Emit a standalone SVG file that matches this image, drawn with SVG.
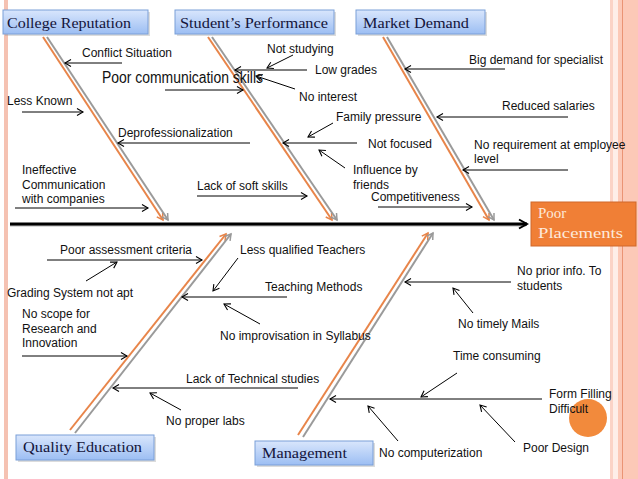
<svg xmlns="http://www.w3.org/2000/svg" width="638" height="479" viewBox="0 0 638 479">
<defs>
<linearGradient id="blue" x1="0" y1="0" x2="0" y2="1">
<stop offset="0" stop-color="#d9e6fc"/>
<stop offset="1" stop-color="#9cbef3"/>
</linearGradient>
<marker id="ah" viewBox="-8 -5 10 10" refX="0" refY="0" markerWidth="10" markerHeight="10" markerUnits="userSpaceOnUse" orient="auto">
<path d="M-6,-3.5 L0,0 L-6,3.5" fill="none" stroke="#000" stroke-width="1.1"/>
</marker>
<marker id="aho" viewBox="-8 -5 10 10" refX="0" refY="0" markerWidth="10" markerHeight="10" markerUnits="userSpaceOnUse" orient="auto">
<path d="M-6,-3.5 L0,0 L-6,3.5" fill="none" stroke="#e8854a" stroke-width="1.5"/>
</marker>
<marker id="ahg" viewBox="-8 -5 10 10" refX="0" refY="0" markerWidth="10" markerHeight="10" markerUnits="userSpaceOnUse" orient="auto">
<path d="M-6,-3.5 L0,0 L-6,3.5" fill="none" stroke="#9a9a9a" stroke-width="1.5"/>
</marker>
<marker id="ahs" viewBox="-10 -6 12 12" refX="0" refY="0" markerWidth="12" markerHeight="12" markerUnits="userSpaceOnUse" orient="auto">
<path d="M-8,-4.5 L0,0 L-8,4.5" fill="none" stroke="#000" stroke-width="2"/>
</marker>
</defs>
<style>
.cat{fill:url(#blue);stroke:#7a9fd8;stroke-width:1}
.sh{fill:#9a9a9a;opacity:0.35}
.ct{font-family:"Liberation Serif","DejaVu Serif",serif;font-size:14.5px;fill:#14143a}
.lb{font-family:"Liberation Sans",Arial,sans-serif;font-size:12px;fill:#111}
.ar{stroke:#000;stroke-width:1;fill:none;marker-end:url(#ah)}
.bo{stroke:#e8854a;stroke-width:2;fill:none;marker-end:url(#aho)}
.bg{stroke:#9a9a9a;stroke-width:2;fill:none;marker-end:url(#ahg)}
</style>
<rect width="638" height="479" fill="#fff"/>
<rect x="4" y="0" width="4" height="479" fill="#f5c2b2"/>
<rect x="610" y="0" width="3" height="479" fill="#fbd3c6"/>
<rect x="613" y="0" width="5" height="479" fill="#feeee8"/>
<rect x="618" y="0" width="20" height="479" fill="#fcc9b7"/>
<line x1="622.5" y1="0" x2="622.5" y2="479" stroke="#ea9474" stroke-width="1"/>

<g id="connectors">
<line x1="10" y1="225.5" x2="526" y2="225.5" stroke="#888" stroke-width="2" opacity="0.6"/>
<line x1="10" y1="224" x2="527" y2="224" stroke="#000" stroke-width="3" marker-end="url(#ahs)"/>
<line class="bo" x1="43" y1="37" x2="163" y2="220"/>
<line class="bg" x1="47" y1="37" x2="168" y2="220"/>
<line class="bo" x1="208" y1="37" x2="332" y2="220"/>
<line class="bg" x1="212" y1="37" x2="337" y2="220"/>
<line class="bo" x1="383" y1="37" x2="489" y2="220"/>
<line class="bg" x1="387" y1="37" x2="494" y2="220"/>
<line class="bo" x1="70" y1="430" x2="226" y2="234"/>
<line class="bg" x1="75" y1="433" x2="231" y2="234"/>
<line class="bo" x1="298" y1="435" x2="428" y2="233"/>
<line class="bg" x1="303" y1="437" x2="433" y2="233"/>
<line class="ar" x1="122" y1="63" x2="65" y2="63"/>
<line class="ar" x1="22" y1="112" x2="83" y2="112"/>
<line class="ar" x1="165" y1="90" x2="243" y2="90"/>
<line class="ar" x1="250" y1="143" x2="118" y2="143"/>
<line class="ar" x1="15" y1="208" x2="148" y2="208"/>
<line class="ar" x1="197" y1="196" x2="307" y2="196"/>
<line class="ar" x1="293" y1="55" x2="267" y2="68"/>
<line class="ar" x1="307" y1="70" x2="235" y2="70"/>
<line class="ar" x1="295" y1="89" x2="256" y2="76"/>
<line class="ar" x1="333" y1="123" x2="308" y2="137"/>
<line class="ar" x1="357" y1="143" x2="283" y2="143"/>
<line class="ar" x1="345" y1="168" x2="319" y2="150"/>
<line class="ar" x1="378" y1="207" x2="472" y2="207"/>
<line class="ar" x1="505" y1="69" x2="405" y2="69"/>
<line class="ar" x1="568" y1="117" x2="437" y2="117"/>
<line class="ar" x1="568" y1="170" x2="463" y2="170"/>
<line class="ar" x1="47" y1="260" x2="202" y2="260"/>
<line class="ar" x1="86" y1="281" x2="117" y2="262"/>
<line class="ar" x1="238" y1="258" x2="213" y2="291"/>
<line class="ar" x1="287" y1="297" x2="182" y2="297"/>
<line class="ar" x1="22" y1="356" x2="127" y2="356"/>
<line class="ar" x1="260" y1="324" x2="224" y2="304"/>
<line class="ar" x1="298" y1="388" x2="113" y2="388"/>
<line class="ar" x1="181" y1="410" x2="150" y2="393"/>
<line class="ar" x1="511" y1="282" x2="405" y2="282"/>
<line class="ar" x1="473" y1="313" x2="453" y2="288"/>
<line class="ar" x1="457" y1="373" x2="421" y2="397"/>
<line class="ar" x1="542" y1="399" x2="330" y2="399"/>
<line class="ar" x1="398" y1="441" x2="368" y2="406"/>
<line class="ar" x1="515" y1="442" x2="480" y2="405"/>
</g>

<g id="college-reputation">
<rect class="sh" x="5" y="12" width="145" height="24"/>
<rect class="cat" x="3" y="10" width="145" height="24"/>
<text class="ct" x="7" y="28" textLength="124" lengthAdjust="spacingAndGlyphs">College Reputation</text>
</g>
<g id="students-performance">
<rect class="sh" x="177" y="12" width="159" height="24"/>
<rect class="cat" x="175" y="10" width="159" height="24"/>
<text class="ct" x="180" y="28" textLength="148" lengthAdjust="spacingAndGlyphs">Student’s Performance</text>
</g>
<g id="market-demand">
<rect class="sh" x="358" y="12" width="129" height="24"/>
<rect class="cat" x="356" y="10" width="129" height="24"/>
<text class="ct" x="363" y="28" textLength="106" lengthAdjust="spacingAndGlyphs">Market Demand</text>
</g>
<g id="quality-education">
<rect class="sh" x="18" y="437" width="138" height="25"/>
<rect class="cat" x="16" y="435" width="138" height="25"/>
<text class="ct" x="23" y="452" textLength="119" lengthAdjust="spacingAndGlyphs">Quality Education</text>
</g>
<g id="management">
<rect class="sh" x="257" y="443" width="118" height="24"/>
<rect class="cat" x="255" y="441" width="118" height="24"/>
<text class="ct" x="262" y="458" textLength="85" lengthAdjust="spacingAndGlyphs">Management</text>
</g>
<g id="poor-placements">
<rect x="531" y="202" width="105" height="44" fill="#f07f36" stroke="#d0692a" stroke-width="1"/>
<text x="538" y="218" font-family="Liberation Serif,DejaVu Serif,serif" font-size="15" fill="#fde9da">Poor</text>
<text x="538" y="238" font-family="Liberation Serif,DejaVu Serif,serif" font-size="15" fill="#fde9da" textLength="85" lengthAdjust="spacingAndGlyphs">Placements</text>
</g>

<circle cx="588" cy="418" r="19" fill="#f28a3c"/>

<g id="labels">
<text class="lb" x="82" y="57">Conflict Situation</text>
<text class="lb" x="7" y="105">Less Known</text>
<text x="102" y="83" font-family="Liberation Sans,Arial,sans-serif" font-size="16" fill="#111" textLength="161" lengthAdjust="spacingAndGlyphs">Poor communication skills</text>
<text class="lb" x="118" y="137">Deprofessionalization</text>
<text class="lb" x="22" y="174">Ineffective</text>
<text class="lb" x="22" y="189">Communication</text>
<text class="lb" x="22" y="203">with companies</text>
<text class="lb" x="197" y="190">Lack of soft skills</text>
<text class="lb" x="267" y="53">Not studying</text>
<text class="lb" x="315" y="74">Low grades</text>
<text class="lb" x="299" y="101">No interest</text>
<text class="lb" x="336" y="121">Family pressure</text>
<text class="lb" x="368" y="148">Not focused</text>
<text class="lb" x="353" y="174">Influence by</text>
<text class="lb" x="353" y="189">friends</text>
<text class="lb" x="371" y="201">Competitiveness</text>
<text class="lb" x="469" y="64">Big demand for specialist</text>
<text class="lb" x="502" y="110">Reduced salaries</text>
<text class="lb" x="474" y="149">No requirement at employee</text>
<text class="lb" x="474" y="163">level</text>
<text class="lb" x="60" y="254">Poor assessment criteria</text>
<text class="lb" x="7" y="297">Grading System not apt</text>
<text class="lb" x="240" y="254">Less qualified Teachers</text>
<text class="lb" x="265" y="291">Teaching Methods</text>
<text class="lb" x="22" y="318">No scope for</text>
<text class="lb" x="22" y="333">Research and</text>
<text class="lb" x="22" y="347">Innovation</text>
<text class="lb" x="220" y="340">No improvisation in Syllabus</text>
<text class="lb" x="186" y="383">Lack of Technical studies</text>
<text class="lb" x="166" y="425">No proper labs</text>
<text class="lb" x="517" y="275">No prior info. To</text>
<text class="lb" x="517" y="290">students</text>
<text class="lb" x="458" y="328">No timely Mails</text>
<text class="lb" x="453" y="360">Time consuming</text>
<text class="lb" x="549" y="398">Form Filling</text>
<text class="lb" x="549" y="413">Difficult</text>
<text class="lb" x="379" y="457">No computerization</text>
<text class="lb" x="523" y="452">Poor Design</text>
</g>
</svg>
